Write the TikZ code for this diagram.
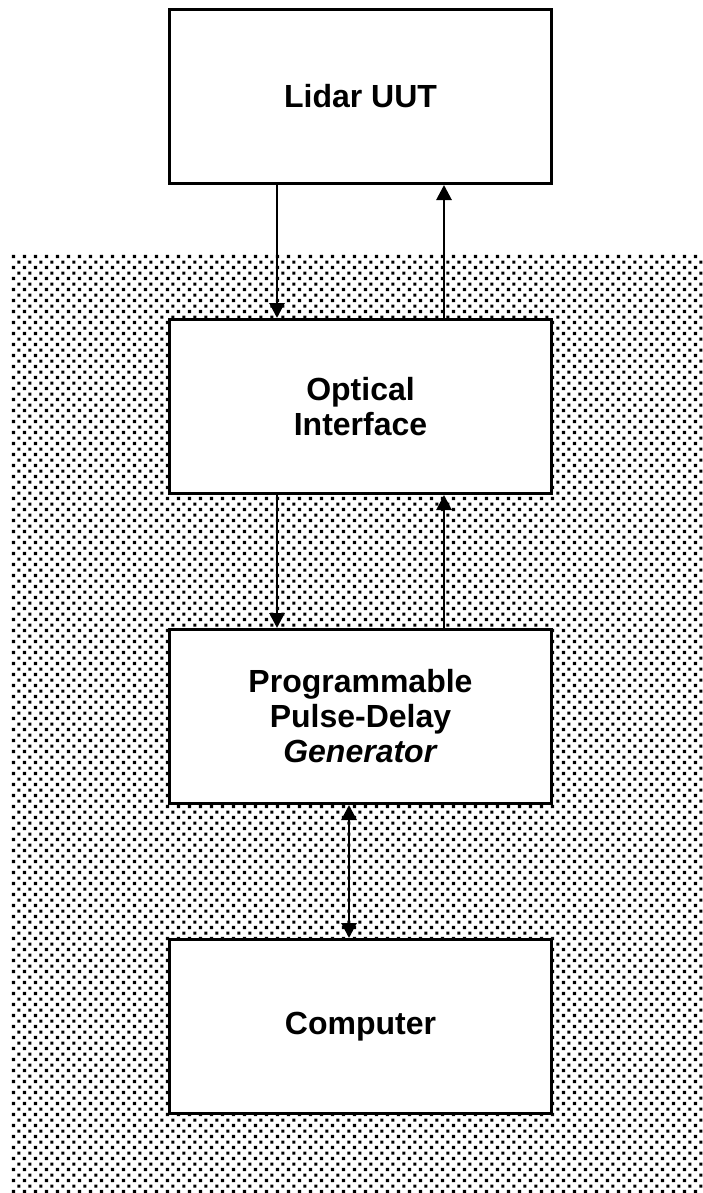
\documentclass[tikz,border=0pt]{standalone}
\usepackage{fontspec}
\setmainfont{Liberation Sans}
\usetikzlibrary{arrows.meta,patterns}
\pgfdeclarepatternformonly{dotgrid}{\pgfpointorigin}{\pgfqpoint{11.3pt}{11.3pt}}{\pgfqpoint{11.3pt}{11.3pt}}{%
	\pgfpathrectangle{\pgfqpoint{1pt}{1pt}}{\pgfqpoint{3.3pt}{3.3pt}}%
	\pgfpathrectangle{\pgfqpoint{6.65pt}{6.65pt}}{\pgfqpoint{3.3pt}{3.3pt}}%
	\pgfusepath{fill}}
\begin{document}
\begin{tikzpicture}[x=1pt, y=1pt, >={Triangle[length=15pt,width=15pt]},
	block/.style={rectangle, draw=black, fill=white, line width=3pt, minimum width=382pt, minimum height=174pt, inner sep=0pt, text centered, align=center, font=\fontsize{32}{35}\selectfont\bfseries},
	link/.style={line width=2.8pt}]
	\useasboundingbox (0,0) rectangle (703,-1193);
	\fill[pattern=dotgrid] (10,-253) rectangle (703,-1193);
	\node[block] at (360.5,-96.5) (LU) {Lidar UUT};
	\node[block, anchor=north] at ([yshift=-133pt]LU.south) (OI) {Optical\\Interface};
	\node[block, anchor=north] at ([yshift=-133pt]OI.south) (PD) {Programmable\\Pulse-Delay\\\textit{Generator}};
	\node[block, anchor=north] at ([yshift=-133pt]PD.south) (CO) {Computer};
	\draw[link, ->] ([xshift=-83.5pt]LU.south) -- ([xshift=-83.5pt]OI.north);
	\draw[link, ->] ([xshift=83.5pt]OI.north) -- ([xshift=83.5pt]LU.south);
	\draw[link, ->] ([xshift=-83.5pt]OI.south) -- ([xshift=-83.5pt]PD.north);
	\draw[link, ->] ([xshift=83.5pt]PD.north) -- ([xshift=83.5pt]OI.south);
	\draw[link, <->] ([xshift=-11.5pt]PD.south) -- ([xshift=-11.5pt]CO.north);
\end{tikzpicture}
\end{document}
